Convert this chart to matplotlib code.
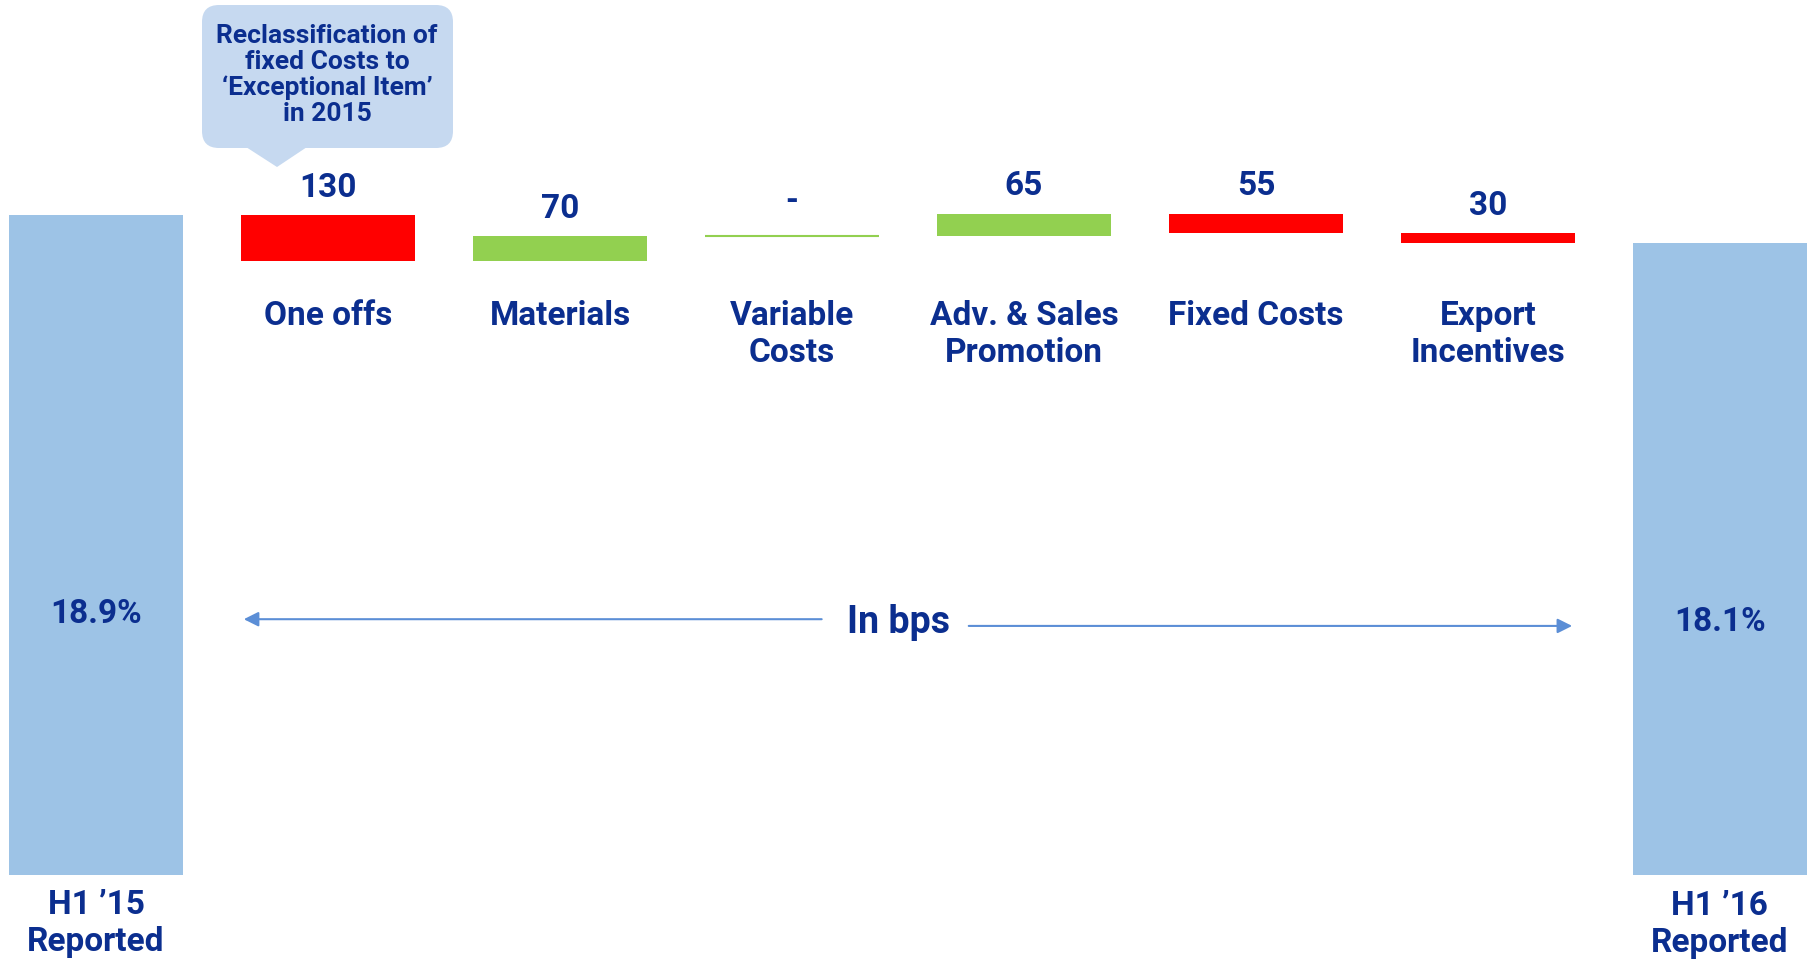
import matplotlib
matplotlib.use("Agg")
import matplotlib.pyplot as plt
import matplotlib.transforms as mtransforms
from matplotlib.patches import FancyBboxPatch, Polygon
import numpy as np

plt.rcParams['font.family'] = ['Roboto', 'DejaVu Sans']

# ---- data (margin in bps, start/end as %)
start_label, end_label = "H1 \u201915\nReported", "H1 \u201916\nReported"
start_pct, end_pct = 18.9, 18.1
categories = ["One offs", "Materials", "Variable\nCosts", "Adv. & Sales\nPromotion",
              "Fixed Costs", "Export\nIncentives"]
deltas_bps = [-130, 70, 0, 65, -55, -30]
callout_text = "Reclassification of\nfixed Costs to\n\u2018Exceptional Item\u2019\nin 2015"

NAVY = "#0B2E8F"
BLUE = "#9DC3E6"
RED = "#FF0000"
GREEN = "#92D050"
CALLOUT = "#C6D9F0"
ARROW = "#5B8ED6"

fig = plt.figure(figsize=(18.12, 9.6), dpi=100)
ax = fig.add_axes([0, 0, 1, 1])
ax.axis("off")
ax.set_xlim(-0.414, 7.397)
ax.set_ylim(-244, 2507)

W = 0.75
n = len(categories)
start = start_pct * 100
end = end_pct * 100

# end bars
ax.bar([0, n + 1], [start, end], width=W, color=BLUE)

# floating deltas
level = start
for i, d in enumerate(deltas_bps):
    x = i + 1
    col = RED if d < 0 else GREEN
    ax.bar(x, d, bottom=level, width=W, color=col, edgecolor=col,
           linewidth=1.5 if d == 0 else 0)
    top = max(level, level + d)
    level += d
    lab = "-" if d == 0 else f"{abs(d)}"
    ax.annotate(lab, (x, top), xytext=(0, 8 if d else 14), textcoords="offset points",
                ha="center", va="bottom", fontsize=24, fontweight="bold", color=NAVY)

# category labels under the floating bars
bt = mtransforms.blended_transform_factory(ax.transData, fig.transFigure)
for i, c in enumerate(categories):
    ax.text(i + 1, 0.687, c, transform=bt, ha="center", va="top", fontsize=24,
            fontweight="bold", color=NAVY, linespacing=1.18)

# end bar texts
ax.text(0, 0.360, f"{start_pct:.1f}%", transform=bt, ha="center", va="center",
        fontsize=24, fontweight="bold", color=NAVY)
ax.text(n + 1, 0.352, f"{end_pct:.1f}%", transform=bt, ha="center", va="center",
        fontsize=24, fontweight="bold", color=NAVY)
ax.text(0, 0.038, start_label, transform=bt, ha="center", va="center",
        fontsize=24, fontweight="bold", color=NAVY, linespacing=1.17)
ax.text(n + 1, 0.037, end_label, transform=bt, ha="center", va="center",
        fontsize=24, fontweight="bold", color=NAVY, linespacing=1.17)

# "In bps" with arrows spanning the delta bars
ax.text(3.46, 0.352, "In bps", transform=bt, ha="center", va="center",
        fontsize=27, fontweight="bold", color=NAVY)
ax.annotate("", xy=(1 - W / 2, 0.355), xytext=(3.14, 0.355), xycoords=bt, textcoords=bt,
            arrowprops=dict(arrowstyle="-|>", color=ARROW, lw=1.5, mutation_scale=22))
ax.annotate("", xy=(n + W / 2, 0.348), xytext=(3.75, 0.348), xycoords=bt, textcoords=bt,
            arrowprops=dict(arrowstyle="-|>", color=ARROW, lw=1.5, mutation_scale=22))

# callout bubble (pixel overlay, y from top)
ov = fig.add_axes([0, 0, 1, 1], facecolor="none")
ov.set_xlim(0, 1812); ov.set_ylim(960, 0); ov.axis("off")
ov.add_patch(FancyBboxPatch((219, 22), 217, 109, boxstyle="round,pad=17",
                            fc=CALLOUT, ec="none"))
ov.add_patch(Polygon([(246, 147), (307, 147), (277, 167)], closed=True, fc=CALLOUT, ec="none"))
ov.text(327, 75, callout_text, ha="center", va="center", fontsize=19, fontweight="bold",
        color=NAVY, linespacing=1.09)

fig.savefig("out.png", dpi=100)
